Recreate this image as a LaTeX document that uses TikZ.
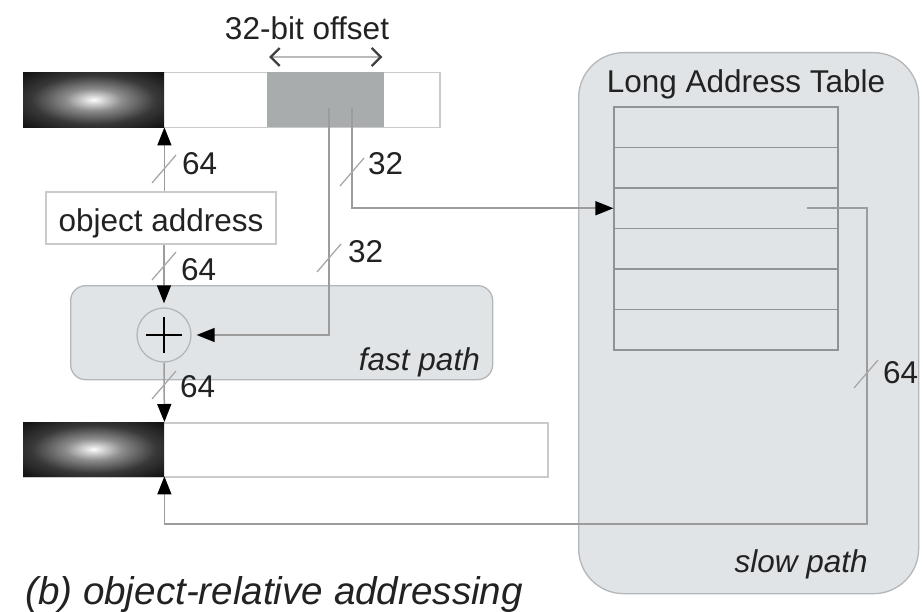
\documentclass[tikz,border=0pt]{standalone}
\usepackage{fontspec}
\setmainfont{Liberation Sans}
\usetikzlibrary{arrows.meta,calc}
\definecolor{panelfill}{HTML}{E1E4E6}
\definecolor{panelborder}{HTML}{B3B7BA}
\definecolor{offsetgray}{HTML}{A9ACAC}
\definecolor{barborder}{HTML}{CACACA}
\definecolor{linegray}{HTML}{9C9C9C}
\definecolor{tickgray}{HTML}{A8A8A8}
\definecolor{tablegray}{HTML}{8F9396}
\definecolor{textcol}{HTML}{222222}
\pgfdeclareradialshading{cellshade}{\pgfpoint{0bp}{0bp}}{color(0bp)=(white); color(2bp)=(black!10); color(10bp)=(black!45); color(22bp)=(black!78); color(34bp)=(black!92); color(50bp)=(black!92)}
\tikzset{chevtip/.tip={Straight Barb[length=9pt,width=18pt,line width=2.4pt,color=black!75]}}
\begin{document}
\begin{tikzpicture}[x=1pt,y=-1pt,
  lbl/.style={font=\fontsize{31.5}{36}\selectfont, text=textcol, inner sep=0pt},
  conn/.style={draw=linegray, line width=1.5pt},
  arr/.style={conn, -{Triangle[length=18pt,width=14pt,color=black,fill=black]}},
  tick/.style={draw=tickgray, line width=1.3pt},
  panel/.style={fill=panelfill, draw=panelborder, line width=1.3pt, anchor=north west, inner sep=0pt},
  bar/.style={draw=barborder, fill=white, line width=1.5pt, anchor=north west, inner sep=0pt, minimum height=55pt},
  darkcell/.style={shading=cellshade, anchor=north west, inner sep=0pt, minimum width=141pt},
  rowbox/.style={draw=tablegray, line width=1.2pt, inner sep=0pt, minimum width=224pt, minimum height=40.5pt},
]
\useasboundingbox (0,0) rectangle (923,612);
\fill[white] (0,0) rectangle (923,612);

% panels
\node[panel, rounded corners=45pt, minimum width=340pt, minimum height=541pt] (slow) at (578,52) {};
\node[panel, rounded corners=15pt, minimum width=422pt, minimum height=94pt] (fast) at (70,285) {};

% top bar
\node[bar, minimum width=416pt] (topbar) at (23,72) {};
\node[darkcell, minimum height=55pt] (topdark) at (23,72) {};
\node[fill=offsetgray, anchor=north west, inner sep=0pt, minimum width=117pt, minimum height=55pt] (offs) at (267,72) {};

% bottom bar
\node[bar, minimum width=524pt, minimum height=54pt] (botbar) at (23,422) {};
\node[darkcell, minimum height=54pt] (botdark) at (23,422) {};

% object address
\node[draw=barborder, line width=1.5pt, fill=white, minimum width=230pt, minimum height=52pt, inner sep=0pt] (obj) at (161,218) {};
\node[lbl, anchor=base] (objtxt) at (161,232) {object address};

% plus
\node[circle, draw=panelborder, line width=1.3pt, fill=panelfill, minimum size=54pt, inner sep=0pt] (plus) at (164,335) {};
\draw[black, line width=2pt] ($(plus.center)+(-18,0)$) -- ($(plus.center)+(18,0)$);
\draw[black, line width=2pt] ($(plus.center)+(0,-18)$) -- ($(plus.center)+(0,18)$);

% table
\foreach \i in {1,...,6}{
  \node[rowbox] (r\i) at (726,{107+40.5*(\i-0.5)}) {};
}

% texts
\node[lbl, anchor=base] (offtxt) at (307,40) {32-bit offset};
\node[lbl, anchor=base] (lat) at (746,93) {Long Address Table};
\node[lbl, anchor=base east, font=\fontsize{31.5}{36}\selectfont\itshape] (fp) at (480,370) {fast path};
\node[lbl, anchor=base east, font=\fontsize{31.5}{36}\selectfont\itshape] (sp) at (868,572) {slow path};
\node[lbl, anchor=base west, font=\fontsize{38.6}{44}\selectfont\itshape] (cap) at (25,604) {(b) object-relative addressing};

% offset span
\draw[draw=linegray!70, line width=1.3pt, chevtip-chevtip]
  ($(offs.north west)+(2,-15)$) -- ($(offs.north east)+(-2,-15)$);

% connectors
\coordinate (o1) at (329,108);
\coordinate (o2) at (352,108);
\coordinate (tout) at (807,{107+40.5*2.5});
\coordinate (rc) at (867,524);

\draw[arr] (obj.north -| topdark.east) -- (topdark.south east);
\draw[arr, shorten >=4pt] (obj.south -| plus.center) -- (plus.north);
\draw[arr] (plus.south) -- (botdark.north east);
\draw[arr] (o2) |- (r3.west);
\draw[arr, shorten >=5pt] (o1) |- (plus.east);
\draw[arr] (tout) -| (rc) -| (botdark.south east);

% width ticks and labels
\draw[tick] (164,169) +(-12,14) -- +(12,-14);
\node[lbl, anchor=base west] (w1) at (182,175) {64};
\draw[tick] (352,172) +(-12,14) -- +(12,-14);
\node[lbl, anchor=base west] (w2) at (368,175) {32};
\draw[tick] (164,266) +(-12,14) -- +(12,-14);
\node[lbl, anchor=base west] (w3) at (181,280) {64};
\draw[tick] (329,258) +(-12,14) -- +(12,-14);
\node[lbl, anchor=base west] (w4) at (348,262) {32};
\draw[tick] (164,385) +(-12,14) -- +(12,-14);
\node[lbl, anchor=base west] (w5) at (180,397) {64};
\draw[tick] (866,374) +(-12,14) -- +(12,-14);
\node[lbl, anchor=base west] (w6) at (883,383) {64};
\end{tikzpicture}
\end{document}
